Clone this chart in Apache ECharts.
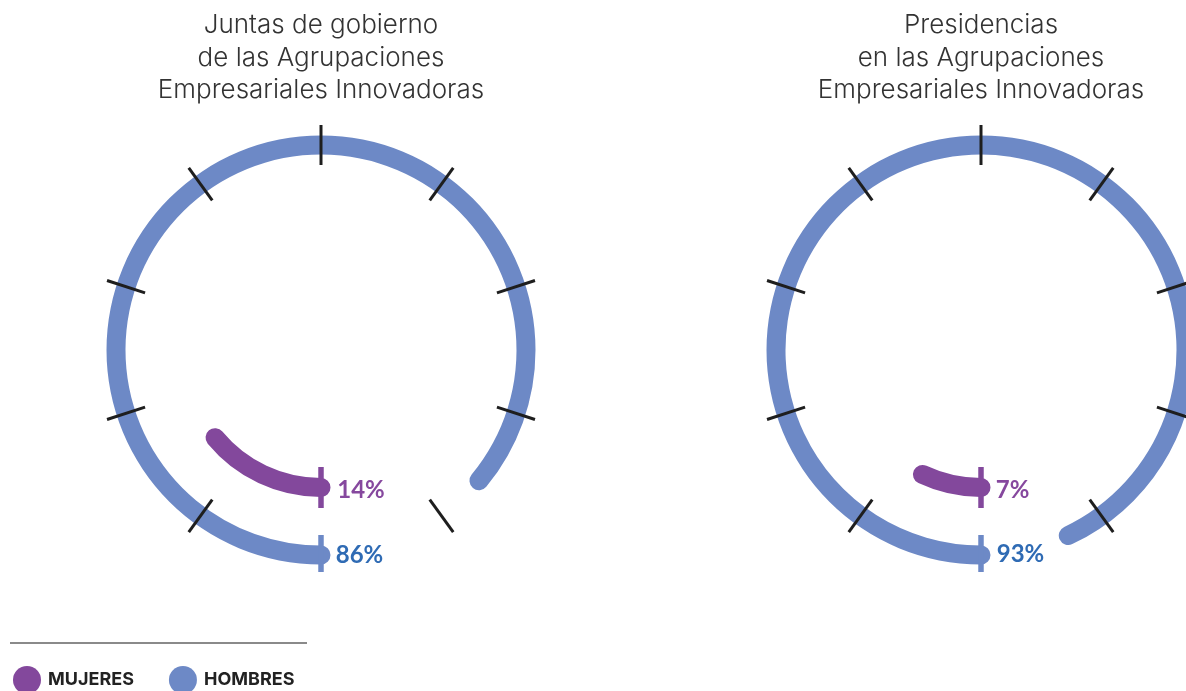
<!DOCTYPE html>
<html><head><meta charset="utf-8">
<script src="https://cdn.jsdelivr.net/npm/echarts@6/dist/echarts.min.js"></script>
<style>html,body{margin:0;padding:0;background:#fff}#c{width:1186px;height:691px}</style>
</head><body><div id="c"></div>
<script>
const chartTitles = ['Juntas de gobierno\nde las Agrupaciones\nEmpresariales Innovadoras', 'Presidencias\nen las Agrupaciones\nEmpresariales Innovadoras'];
const mujeres = [14, 7];
const hombres = [86, 93];
const seriesNames = ['MUJERES', 'HOMBRES'];
const tickPercents = [10, 20, 30, 40, 50, 60, 70, 80, 90];

const PURPLE = '#83489c', BLUE = '#6d89c6', PURPLE_TXT = '#86489e', BLUE_TXT = '#2f6bb4';
const centers = [[321, 350], [981, 350]];
const labelOffsets = [[[40, 140], [38.5, 205]], [[31.5, 140], [39.5, 204]]];

const chart = echarts.init(document.getElementById('c'), null, {renderer: 'canvas'});
const series = [];
const titles = [];
const degPerPct = 3.6;
chartTitles.forEach((t, i) => {
  const c = centers[i];
  titles.push({text: t, left: c[0], top: 9, textAlign: 'center', padding: 0,
    textStyle: {fontFamily: 'Inter', fontWeight: 300, fontSize: 26, lineHeight: 32.5, color: '#333'}});
  const base = {type: 'gauge', center: c, min: 0, max: 100, startAngle: 270, endAngle: -90, clockwise: true,
    axisLine: {show: false, lineStyle: {width: 0}}, axisTick: {show: false}, axisLabel: {show: false},
    splitLine: {show: false}, pointer: {show: false}, anchor: {show: false}, title: {show: false}, animation: false};
  const ring = (name, val, R, color, txtColor, off) => Object.assign({}, base, {
    name, radius: R, z: 2,
    itemStyle: {color},
    progress: {show: true, width: 19, roundCap: true, itemStyle: {color}},
    detail: {show: true, formatter: '{value}%', offsetCenter: off, color: txtColor,
      fontFamily: 'Lato', fontWeight: 'bold', fontSize: 24},
    data: [{value: val, name}]
  });
  series.push(ring(seriesNames[1], hombres[i], 214.5, BLUE, BLUE_TXT, labelOffsets[i][1]));
  series.push(ring(seriesNames[0], mujeres[i], 147, PURPLE, PURPLE_TXT, labelOffsets[i][0]));
  // black ticks every 10 % on the outer ring
  series.push(Object.assign({}, base, {
    radius: 225, z: 5,
    min: tickPercents[0], max: tickPercents[tickPercents.length - 1],
    startAngle: 270 - tickPercents[0] * degPerPct,
    endAngle: 270 - tickPercents[tickPercents.length - 1] * degPerPct,
    splitNumber: tickPercents.length - 1,
    splitLine: {show: true, length: 40, distance: 0, lineStyle: {color: '#1e1e1e', width: 3}},
    detail: {show: false}, data: []
  }));
  // coloured start marks
  [[222, 37, BLUE], [158, 41, PURPLE]].forEach(s => {
    series.push(Object.assign({}, base, {
      radius: s[0], z: 6, splitNumber: 1,
      splitLine: {show: true, length: s[1], distance: 0, lineStyle: {color: s[2], width: 5}},
      detail: {show: false}, data: []
    }));
  });
});

chart.setOption({
  animation: false,
  title: titles,
  legend: {
    left: 8, top: 661, itemWidth: 28, itemHeight: 28, itemGap: 35, icon: 'circle', selectedMode: false,
    data: [{name: seriesNames[0], itemStyle: {color: PURPLE}}, {name: seriesNames[1], itemStyle: {color: BLUE}}],
    textStyle: {fontFamily: 'Inter', fontWeight: 'bold', fontSize: 18, color: '#222', padding: [0, 0, 0, 2]}
  },
  graphic: [{type: 'line', shape: {x1: 10, y1: 643, x2: 307, y2: 643}, style: {stroke: '#8a8a8a', lineWidth: 2}}],
  series
});
</script></body></html>
